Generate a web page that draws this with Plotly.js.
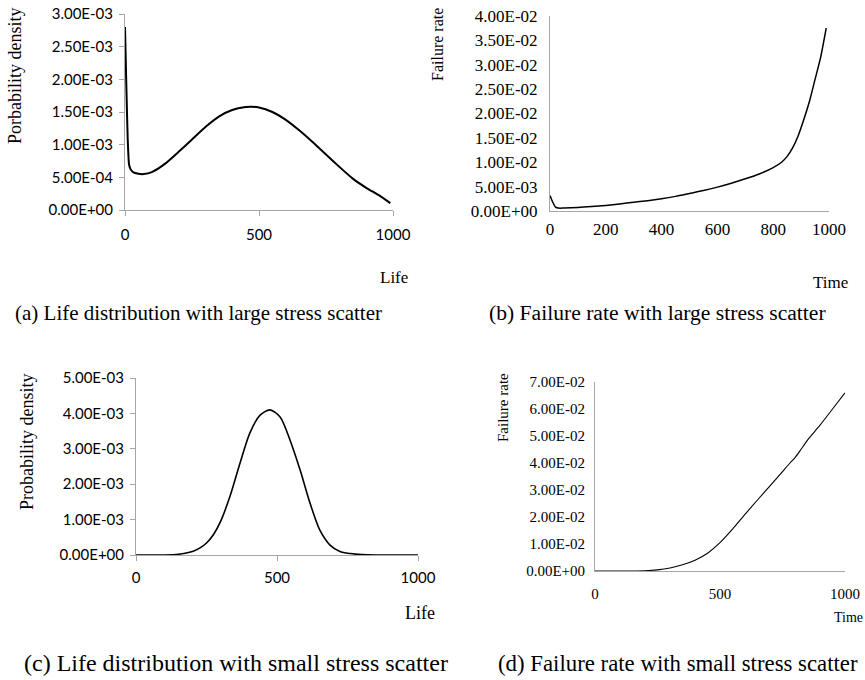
<!DOCTYPE html>
<html>
<head>
<meta charset="utf-8">
<script src="https://cdn.plot.ly/plotly-3.0.1.min.js"></script>
<style>html,body{margin:0;padding:0;background:#fff;}#chart{width:865px;height:680px;}</style>
</head>
<body>
<div id="chart"></div>
<script>
// (a) Life distribution with large stress scatter
const lifeA = [0, 5, 10, 15, 20, 30, 50, 70, 100, 150, 200, 250, 300, 350, 400, 450, 470, 500, 550, 600, 650, 700, 750, 800, 850, 900, 950, 990];
const densA = [2.8e-3, 1.9e-3, 1.1e-3, 7.0e-4, 6.3e-4, 5.8e-4, 5.55e-4, 5.5e-4, 5.8e-4, 7.1e-4, 8.9e-4, 1.08e-3, 1.27e-3, 1.43e-3, 1.53e-3, 1.575e-3, 1.58e-3, 1.57e-3, 1.5e-3, 1.38e-3, 1.22e-3, 1.04e-3, 8.5e-4, 6.6e-4, 4.8e-4, 3.4e-4, 2.2e-4, 1.05e-4];
// (b) Failure rate with large stress scatter
const timeB = [0, 10, 20, 30, 50, 100, 150, 200, 250, 300, 350, 400, 450, 500, 550, 600, 650, 700, 750, 800, 830, 850, 870, 890, 910, 930, 950, 970, 990];
const rateB = [3.2e-3, 1.8e-3, 8e-4, 6e-4, 6e-4, 7e-4, 9e-4, 1.15e-3, 1.45e-3, 1.8e-3, 2.1e-3, 2.5e-3, 3.0e-3, 3.6e-3, 4.2e-3, 4.9e-3, 5.7e-3, 6.6e-3, 7.6e-3, 8.9e-3, 1.0e-2, 1.12e-2, 1.3e-2, 1.55e-2, 1.88e-2, 2.25e-2, 2.7e-2, 3.15e-2, 3.75e-2];
// (c) Life distribution with small stress scatter
const lifeC = [0, 100, 150, 200, 227, 250, 275, 300, 333, 369, 404, 440, 475, 511, 546, 582, 617, 652, 688, 723, 760, 800, 850, 1000];
const densC = [0, 0, 2e-5, 1e-4, 2.0e-4, 3.4e-4, 5.8e-4, 9.5e-4, 1.65e-3, 2.6e-3, 3.45e-3, 3.95e-3, 4.1e-3, 3.9e-3, 3.25e-3, 2.4e-3, 1.47e-3, 7e-4, 2.8e-4, 1e-4, 4e-5, 1e-5, 0, 0];
// (d) Failure rate with small stress scatter
const timeD = [0, 100, 200, 250, 300, 350, 400, 450, 500, 550, 600, 650, 700, 750, 780, 800, 820, 850, 900, 950, 1000];
const rateD = [0, 0, 1e-4, 4e-4, 1.1e-3, 2.3e-3, 4.0e-3, 6.6e-3, 1.05e-2, 1.55e-2, 2.1e-2, 2.63e-2, 3.15e-2, 3.68e-2, 4.0e-2, 4.2e-2, 4.45e-2, 4.85e-2, 5.4e-2, 6.0e-2, 6.6e-2];

// tick labels
const tickValsA = [0, 5e-4, 1e-3, 1.5e-3, 2e-3, 2.5e-3, 3e-3];
const tickTextA = ["0.00E+00", "5.00E-04", "1.00E-03", "1.50E-03", "2.00E-03", "2.50E-03", "3.00E-03"];
const tickValsB = [0, 5e-3, 1e-2, 1.5e-2, 2e-2, 2.5e-2, 3e-2, 3.5e-2, 4e-2];
const tickTextB = ["0.00E+00", "5.00E-03", "1.00E-02", "1.50E-02", "2.00E-02", "2.50E-02", "3.00E-02", "3.50E-02", "4.00E-02"];
const tickValsC = [0, 1e-3, 2e-3, 3e-3, 4e-3, 5e-3];
const tickTextC = ["0.00E+00", "1.00E-03", "2.00E-03", "3.00E-03", "4.00E-03", "5.00E-03"];
const tickValsD = [0, 1e-2, 2e-2, 3e-2, 4e-2, 5e-2, 6e-2, 7e-2];
const tickTextD = ["0.00E+00", "1.00E-02", "2.00E-02", "3.00E-02", "4.00E-02", "5.00E-02", "6.00E-02", "7.00E-02"];
const xTicksAC = [0, 500, 1000];
const xTicksB = [0, 200, 400, 600, 800, 1000];
const xTicksD = [0, 500, 1000];

const W = 865, H = 680;
const px = v => v / W;
const py = v => 1 - v / H;

const SERIF = '"Liberation Serif", "Times New Roman", serif';
const SANS = 'Lato, "Open Sans", sans-serif';
const AX = "#a6a6a6";

const traces = [
  {x: lifeA, y: densA, xaxis: 'x', yaxis: 'y', mode: 'lines', line: {color: '#000', width: 2, smoothing: 0.5}},
  {x: timeB, y: rateB, xaxis: 'x2', yaxis: 'y2', mode: 'lines', line: {color: '#000', width: 1.5, smoothing: 0.6}},
  {x: lifeC, y: densC, xaxis: 'x3', yaxis: 'y3', mode: 'lines', line: {color: '#000', width: 1.6, smoothing: 0.8}},
  {x: timeD, y: rateD, xaxis: 'x4', yaxis: 'y4', mode: 'lines', line: {color: '#000', width: 1.1, smoothing: 0.6}}
];
traces.forEach(t => { t.line.shape = 'spline'; t.showlegend = false; t.hoverinfo = 'skip'; });

function xa(domain, anchor, vals, font, ticks, standoff) {
  return {domain: domain, anchor: anchor, range: [0, 1000], showgrid: false, zeroline: false,
    showline: true, linecolor: AX, linewidth: 1, ticks: ticks ? 'outside' : '', ticklen: 5, tickcolor: AX,
    tickmode: 'array', tickvals: vals, ticktext: vals.map(String), tickfont: font, fixedrange: true,
    ticklabelstandoff: standoff};
}
function ya(domain, anchor, vals, text, range, font, ticks, standoff) {
  return {domain: domain, anchor: anchor, range: range, showgrid: false, zeroline: false,
    showline: true, linecolor: AX, linewidth: 1, ticks: ticks ? 'outside' : '', ticklen: 5, tickcolor: AX,
    tickmode: 'array', tickvals: vals, ticktext: text, tickfont: font, fixedrange: true,
    ticklabelstandoff: standoff};
}

const fA = {family: SANS, size: 15, color: '#000'};
const fB = {family: SERIF, size: 17, color: '#000'};
const fD = {family: SERIF, size: 15, color: '#000'};

const layout = {
  width: W, height: H, margin: {l: 0, r: 0, t: 0, b: 0}, paper_bgcolor: '#fff', plot_bgcolor: 'rgba(0,0,0,0)',
  showlegend: false,
  xaxis: xa([px(125), px(393)], 'y', xTicksAC, fA, true, 6),
  yaxis: ya([py(210), py(14)], 'x', tickValsA, tickTextA, [0, 0.003], fA, true, 3),
  xaxis2: xa([px(550), px(829)], 'y2', xTicksB, fB, false, 3),
  yaxis2: ya([py(211), py(16)], 'x2', tickValsB, tickTextB, [0, 0.04], fB, false, 8),
  xaxis3: xa([px(136), px(418)], 'y3', xTicksAC, fA, true, 4),
  yaxis3: ya([py(555), py(378)], 'x3', tickValsC, tickTextC, [0, 0.005], fA, true, 3),
  xaxis4: xa([px(595), px(845)], 'y4', xTicksD, fD, false, 9),
  yaxis4: ya([py(571), py(382)], 'x4', tickValsD, tickTextD, [0, 0.07], fD, false, 6),
  annotations: [
    {text: 'Porbability density', x: px(15), y: py(76), textangle: -90, font: {family: SERIF, size: 18, color: '#000'}},
    {text: 'Life', x: px(394), y: py(277), font: {family: SERIF, size: 17, color: '#000'}},
    {text: 'Failure rate', x: px(438), y: py(45), textangle: -90, font: {family: SERIF, size: 16, color: '#000'}},
    {text: 'Time', x: px(830), y: py(282), font: {family: SERIF, size: 17, color: '#000'}},
    {text: 'Probability density', x: px(27), y: py(442), textangle: -90, font: {family: SERIF, size: 18, color: '#000'}},
    {text: 'Life', x: px(420), y: py(613), font: {family: SERIF, size: 18, color: '#000'}},
    {text: 'Failure rate', x: px(503), y: py(408), textangle: -90, font: {family: SERIF, size: 15, color: '#000'}},
    {text: 'Time', x: px(848), y: py(617), font: {family: SERIF, size: 14, color: '#000'}},
    {text: '(a) Life distribution with large stress scatter', x: px(13), y: py(313), xanchor: 'left', font: {family: SERIF, size: 21, color: '#000'}},
    {text: '(b) Failure rate with large stress scatter', x: px(487), y: py(313), xanchor: 'left', font: {family: SERIF, size: 21.6, color: '#000'}},
    {text: '(c) Life distribution with small stress scatter', x: px(22), y: py(663), xanchor: 'left', font: {family: SERIF, size: 24, color: '#000'}},
    {text: '(d) Failure rate with small stress scatter', x: px(496), y: py(663), xanchor: 'left', font: {family: SERIF, size: 22.8, color: '#000'}}
  ].map(a => Object.assign({xref: 'paper', yref: 'paper', showarrow: false, xanchor: 'center', yanchor: 'middle'}, a))
};

Plotly.newPlot('chart', traces, layout, {staticPlot: true, displayModeBar: false});
</script>
</body>
</html>
